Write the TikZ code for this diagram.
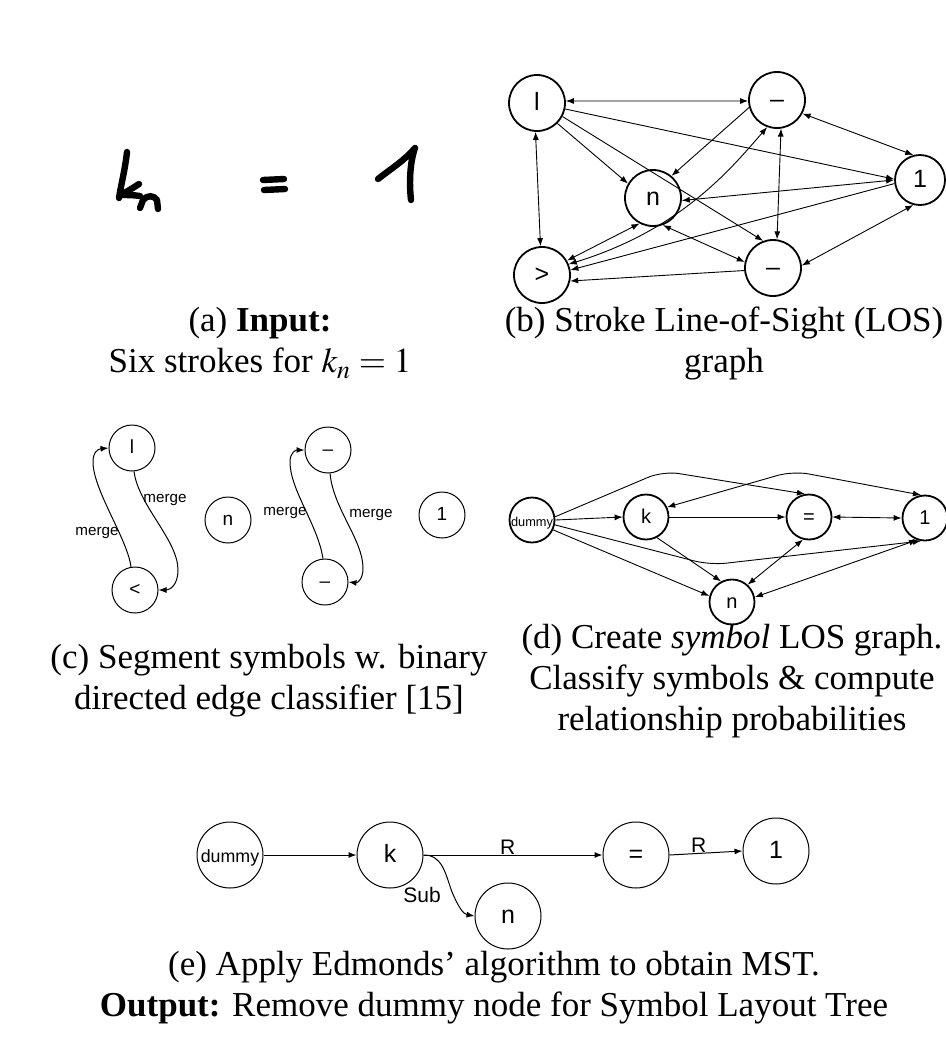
\documentclass[tikz,border=0pt]{standalone}
\usepackage{mathptmx}
\usepackage{fontspec}
\setmainfont{Liberation Serif}
\newfontfamily\graphfont{Liberation Sans}
\usetikzlibrary{arrows.meta}

\begin{document}
\begin{tikzpicture}[x=0.5pt, y=-0.5pt, >={Latex[length=4pt,width=3pt]},
  los/.style={draw, circle, line width=0.9pt, minimum size=28pt, inner sep=0pt, text height=7.4pt, text depth=0pt, font=\graphfont\fontsize{12.5}{12.5}\selectfont},
  seg/.style={draw, circle, line width=0.5pt, minimum size=23pt, inner sep=0pt, text height=5.7pt, text depth=0pt, font=\graphfont\fontsize{9.5}{9.5}\selectfont},
  sym/.style={draw, circle, line width=0.9pt, minimum size=22.5pt, inner sep=0pt, text height=6pt, text depth=0pt, font=\graphfont\fontsize{10}{10}\selectfont},
  slt/.style={draw, circle, line width=0.5pt, minimum size=33pt, inner sep=0pt, text height=7.6pt, text depth=0pt, font=\graphfont\fontsize{12.5}{12.5}\selectfont},
  losedge/.style={line width=0.45pt},
  mergeedge/.style={line width=0.5pt, ->},
  mergelabel/.style={font=\graphfont\fontsize{7.6}{7.6}\selectfont, inner sep=0pt},
  treelabel/.style={font=\graphfont\fontsize{10.5}{10.5}\selectfont, inner sep=1pt},
  ink/.style={line width=3.2pt, line cap=round, line join=round},
  caption/.style={align=center, font=\fontsize{17.5}{20.5}\selectfont}]

\useasboundingbox (0,0) rectangle (946,1061);

\draw[ink] (127,152) .. controls (125,170) and (121,185) .. (119,198);
\draw[ink] (139,184) .. controls (133,188) and (126,192) .. (121,195) .. controls (127,195) and (134,195) .. (140,196);
\draw[ink] (140,208) -- (143,200) .. controls (147,195) and (154,195) .. (157,200) -- (158,209);
\draw[ink] (263,180) -- (284,179);
\draw[ink] (264,190) -- (285,189);
\draw[ink] (378,179) .. controls (392,168) and (405,160) .. (415,148) .. controls (410,162) and (409,182) .. (411,200);

\node[caption] (capa) at (260,343) {(a) \textbf{Input:}\\Six strokes for $k_n = 1$};

\node[los] (l) at (537,103) {l};
\node[los] (tm) at (777,100) {\textendash};
\node[los, minimum size=25pt] (one) at (920,180) {1};
\node[los] (n) at (653,198) {n};
\node[los] (gt) at (542,275) {>};
\node[los] (bm) at (773,268) {\textendash};

\draw[losedge, <->] (l.4) -- (tm.182);
\draw[losedge, ->] (l.-12) -- (one.178);
\draw[losedge, ->] (l.-45) -- (n.150);
\draw[losedge, <->] (l.-93) -- (gt.93);
\draw[losedge, ->] (l.-28) -- (bm.110);
\draw[losedge, <->] (tm.-28) -- (one.105);
\draw[losedge, <->] (tm.-82) -- (bm.82);
\draw[losedge, ->] (tm.195) -- (n.50);
\draw[losedge, <->] (tm.-110) .. controls (730,170) and (680,230) .. (gt.22);
\draw[losedge, <->] (one.180) -- (n.-5);
\draw[losedge, ->] (one.188) -- (gt.10);
\draw[losedge, <->] (one.-105) -- (bm.5);
\draw[losedge, <->] (n.-118) -- (gt.30);
\draw[losedge, <->] (n.-70) -- (bm.168);
\draw[losedge, ->] (bm.185) -- (gt.-12);

\node[caption] (capb) at (724,343) {(b) Stroke Line-of-Sight (LOS)\\graph};

\node[seg] (cl) at (132,448) {l};
\node[seg] (clt) at (135,590) {<};
\node[seg] (cn) at (228,520) {n};
\node[seg] (cma) at (328,450) {\textendash};
\node[seg] (cmb) at (325,582) {\textendash};
\node[seg] (cone) at (442,515) {1};

\draw[mergeedge] (clt.100) .. controls (128,540) and (93,490) .. (93,462) .. controls (93,452) and (98,449) .. (cl.west);
\draw[mergeedge] (cl.-85) .. controls (138,505) and (178,540) .. (178,570) .. controls (178,585) and (170,590) .. (clt.east);
\draw[mergeedge] (cmb.95) .. controls (318,525) and (290,490) .. (290,462) .. controls (290,452) and (296,450) .. (cma.west);
\draw[mergeedge] (cma.-85) .. controls (333,508) and (363,540) .. (363,568) .. controls (363,580) and (357,583) .. (cmb.east);
\node[mergelabel] (ma) at (97,533) {merge};
\node[mergelabel] (mb) at (165,500) {merge};
\node[mergelabel] (mc) at (285,513) {merge};
\node[mergelabel] (md) at (371,515) {merge};

\node[caption] (capc) at (269,681) {(c) Segment symbols w. binary\\directed edge classifier [15]};

\node[sym, font=\graphfont\fontsize{6.4}{6.4}\selectfont] (dd) at (532,520) {dummy};
\node[sym] (dk) at (646,517) {k};
\node[sym] (deq) at (809,517) {=};
\node[sym] (done) at (925,518) {1};
\node[sym] (dn) at (732,602) {n};

\draw[losedge, ->] (dd.east) -- (dk.west);
\draw[losedge, ->, rounded corners=8pt] (dd.8) -- (663,471) -- (deq.100);
\draw[losedge, ->] (dk.east) -- (deq.west);
\draw[losedge, <->] (deq.east) -- (done.west);
\draw[losedge, <->, rounded corners=8pt] (dk.25) -- (793,471) -- (done.100);
\draw[losedge, ->, rounded corners=8pt] (dd.-12) -- (710,565) -- (done.-100);
\draw[losedge, ->] (dd.-25) -- (dn.165);
\draw[losedge, ->] (dk.-62) -- (dn.118);
\draw[losedge, <->] (deq.-105) -- (dn.48);
\draw[losedge, <->] (done.-110) -- (dn.12);

\node[caption] (capd) at (732,681) {(d) Create \textit{symbol} LOS graph.\\Classify symbols \& compute\\relationship probabilities};

\node[slt, font=\graphfont\fontsize{8.9}{8.9}\selectfont] (ed) at (230,855) {dummy};
\node[slt] (ek) at (390,855) {k};
\node[slt] (eeq) at (636,855) {=};
\node[slt] (eone) at (776,851) {1};
\node[slt] (en) at (508,916) {n};

\draw[mergeedge] (ed.east) -- (ek.west);
\draw[mergeedge] (ek.east) -- node[treelabel, pos=0.47, above=-1pt] {R} (eeq.west);
\draw[mergeedge] (eeq.east) -- node[treelabel, pos=0.4, above=-1pt] {R} (eone.west);
\draw[mergeedge] (ek.east) .. controls (442,855) and (445,872) .. (452,892) .. controls (458,906) and (463,914) .. (en.west);
\node[treelabel] (sub) at (422,895) {Sub};

\node[caption] (cape) at (494,988) {(e) Apply Edmonds’ algorithm to obtain MST.\\\textbf{Output:} Remove dummy node for Symbol Layout Tree};

\end{tikzpicture}
\end{document}
